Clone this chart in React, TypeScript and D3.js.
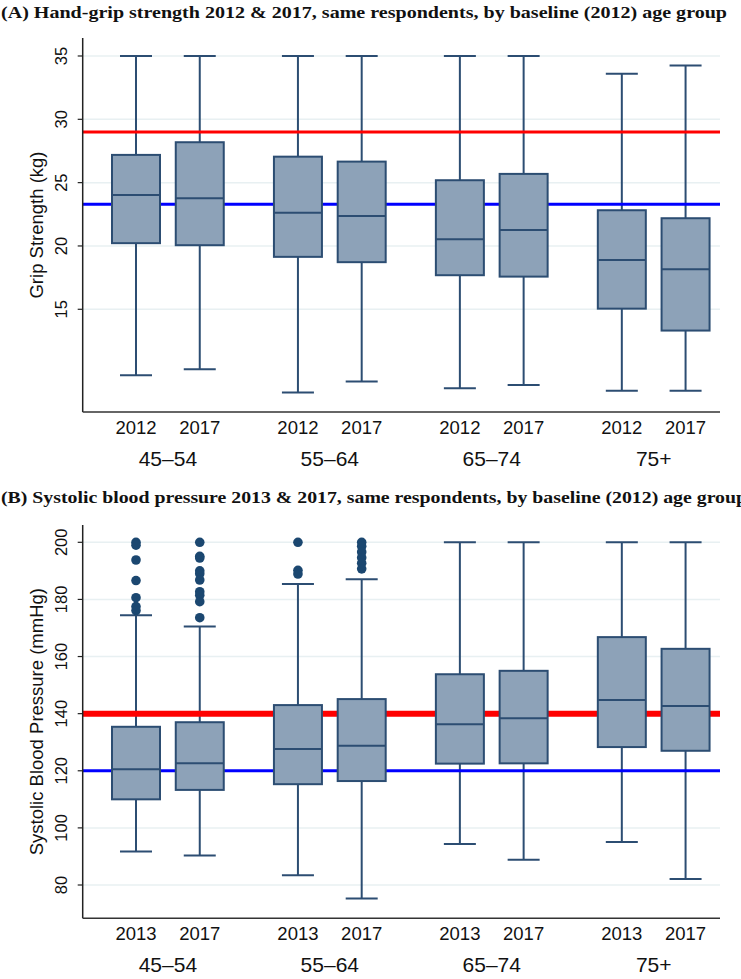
import React from "react";
import * as d3 from "d3";

// ---------- Data ----------
const ageGroups = ["45–54", "55–64", "65–74", "75+"];
const yearsA = ["2012", "2017"];
const yearsB = ["2013", "2017"];

// Panel A: grip strength (kg), order: group0-year0, group0-year1, ...
const gripLow = [9.8, 10.27, 8.43, 9.29, 8.77, 9.03, 8.56, 8.56];
const gripQ1 = [20.22, 20.06, 19.14, 18.72, 17.69, 17.58, 15.05, 13.32];
const gripMed = [24.03, 23.77, 22.63, 22.37, 20.53, 21.27, 18.9, 18.16];
const gripQ3 = [27.19, 28.19, 27.05, 26.66, 25.19, 25.69, 22.82, 22.19];
const gripHigh = [35, 35, 35, 35, 35, 35, 33.6, 34.24];
const gripRef = [29.0, 23.3];
const gripTicks = [15, 20, 25, 30, 35];

// Panel B: systolic blood pressure (mmHg)
const bpLow = [91.7, 90.3, 83.4, 75.3, 94.4, 88.8, 95.1, 82.1];
const bpQ1 = [110, 113.3, 115.3, 116.4, 122.5, 122.6, 128.3, 127];
const bpMed = [120.5, 122.6, 127.6, 128.8, 136.3, 138.4, 144.8, 142.7];
const bpQ3 = [135.4, 137, 143, 145.1, 153.8, 155, 166.8, 162.7];
const bpHigh = [174.5, 170.5, 185.4, 187.1, 200, 200, 200, 200];
const bpOutliers = [
  [200, 199, 193.8, 186.6, 180.6, 177.5, 176.1],
  [200, 195.1, 194.5, 190, 189, 186.8, 182.7, 181.5, 179.2, 173.6],
  [200, 190.2, 188.9],
  [200, 198.6, 196.6, 194.6, 192.7, 190.7],
  [], [], [], [],
];
const bpRef = [140, 120];
const bpTicks = [80, 100, 120, 140, 160, 180, 200];

// ---------- Styles ----------
const BOX_FILL = "#8DA2B8";
const BOX_STROKE = "#2C4D72";
const DOT = "#1B4770";
const GRID = "#E8F0F2";
const SANS = "'Liberation Sans', Arial, Helvetica, sans-serif";
const SERIF = "'Liberation Serif', 'Times New Roman', serif";

const PLOT_L = 82.7;
const PLOT_R = 720;
const GROUP_STEP = 2.54;

const x = d3.scaleLinear().domain([-0.836, 9.16]).range([PLOT_L, PLOT_R]);
const slot = (i: number) => Math.floor(i / 2) * GROUP_STEP + (i % 2);

type PanelProps = {
  top: number;
  bottom: number;
  domain: [number, number];
  ticks: number[];
  low: number[];
  q1: number[];
  med: number[];
  q3: number[];
  high: number[];
  outliers?: number[][];
  years: string[];
  refs: number[];
  refWidths: number[];
  yTitle: string;
  title: string;
  titleY: number;
  titleLen: number;
};

function Panel(p: PanelProps) {
  const y = d3.scaleLinear().domain(p.domain).range([p.bottom, p.top]);
  const boxW = 48;
  const capW = 32;
  const refColors = ["#FF0000", "#0000FF"];
  const idx = d3.range(p.low.length);
  return (
    <g>
      <text
        x={1}
        y={p.titleY}
        fontFamily={SERIF}
        fontWeight="bold"
        fontSize={17}
        textLength={p.titleLen}
        lengthAdjust="spacingAndGlyphs"
        fill="#111"
      >
        {p.title}
      </text>
      {/* grid */}
      {p.ticks.map((t) => (
        <line key={"g" + t} x1={PLOT_L} x2={PLOT_R} y1={y(t)} y2={y(t)} stroke={GRID} strokeWidth={1.5} />
      ))}
      {/* whiskers */}
      {idx.map((i) => {
        const cx = x(slot(i));
        return (
          <g key={"w" + i} stroke={BOX_STROKE} strokeWidth={2} fill="none">
            <line x1={cx} x2={cx} y1={y(p.high[i])} y2={y(p.low[i])} />
            <line x1={cx - capW / 2} x2={cx + capW / 2} y1={y(p.high[i])} y2={y(p.high[i])} />
            <line x1={cx - capW / 2} x2={cx + capW / 2} y1={y(p.low[i])} y2={y(p.low[i])} />
          </g>
        );
      })}
      {/* reference lines */}
      {p.refs.map((r, k) => (
        <line key={"r" + k} x1={PLOT_L} x2={PLOT_R} y1={y(r)} y2={y(r)} stroke={refColors[k]} strokeWidth={p.refWidths[k]} />
      ))}
      {/* boxes */}
      {idx.map((i) => {
        const cx = x(slot(i));
        return (
          <g key={"b" + i}>
            <rect
              x={cx - boxW / 2}
              y={y(p.q3[i])}
              width={boxW}
              height={y(p.q1[i]) - y(p.q3[i])}
              fill={BOX_FILL}
              stroke={BOX_STROKE}
              strokeWidth={2}
            />
            <line x1={cx - boxW / 2} x2={cx + boxW / 2} y1={y(p.med[i])} y2={y(p.med[i])} stroke={BOX_STROKE} strokeWidth={2} />
          </g>
        );
      })}
      {/* outliers */}
      {p.outliers &&
        p.outliers.map((arr, i) =>
          arr.map((v, k) => <circle key={"o" + i + "-" + k} cx={x(slot(i))} cy={y(v)} r={4.8} fill={DOT} />)
        )}
      {/* y axis */}
      <line x1={PLOT_L} x2={PLOT_L} y1={p.top} y2={p.bottom} stroke="#222" strokeWidth={1.5} />
      {p.ticks.map((t) => (
        <g key={"t" + t}>
          <line x1={PLOT_L - 5} x2={PLOT_L} y1={y(t)} y2={y(t)} stroke="#222" strokeWidth={1.2} />
          <text
            transform={`translate(${67},${y(t)}) rotate(-90)`}
            textAnchor="middle"
            fontFamily={SANS}
            fontSize={16.5}
            fill="#111"
          >
            {t}
          </text>
        </g>
      ))}
      <text
        transform={`translate(${42.7},${(p.top + p.bottom) / 2}) rotate(-90)`}
        textAnchor="middle"
        fontFamily={SANS}
        fontSize={18.5}
        fill="#111"
      >
        {p.yTitle}
      </text>
      {/* x axis */}
      <line x1={PLOT_L} x2={PLOT_R} y1={p.bottom} y2={p.bottom} stroke="#333" strokeWidth={1.5} />
      {idx.map((i) => (
        <text
          key={"yl" + i}
          x={x(slot(i))}
          y={p.bottom + 21.5}
          textAnchor="middle"
          fontFamily={SANS}
          fontSize={18.5}
          fill="#111"
        >
          {p.years[i % 2]}
        </text>
      ))}
      {ageGroups.map((g, gi) => (
        <text
          key={"ag" + gi}
          x={(x(slot(gi * 2)) + x(slot(gi * 2 + 1))) / 2}
          y={p.bottom + 53.5}
          textAnchor="middle"
          fontFamily={SANS}
          fontSize={21}
          fill="#111"
        >
          {g}
        </text>
      ))}
    </g>
  );
}

export default function App() {
  return (
    <svg
      width={741}
      height={979}
      style={{ position: "absolute", left: 0, top: 0, background: "#fff" }}
    >
      <rect x={0} y={0} width={741} height={979} fill="#fff" />
      <Panel
        top={38}
        bottom={412}
        domain={[6.89, 36.42]}
        ticks={gripTicks}
        low={gripLow}
        q1={gripQ1}
        med={gripMed}
        q3={gripQ3}
        high={gripHigh}
        years={yearsA}
        refs={gripRef}
        refWidths={[3, 3]}
        yTitle="Grip Strength (kg)"
        title="(A) Hand-grip strength 2012 & 2017, same respondents, by baseline (2012) age group"
        titleY={18}
        titleLen={726}
      />
      <Panel
        top={525}
        bottom={918.3}
        domain={[68.34, 206.06]}
        ticks={bpTicks}
        low={bpLow}
        q1={bpQ1}
        med={bpMed}
        q3={bpQ3}
        high={bpHigh}
        outliers={bpOutliers}
        years={yearsB}
        refs={bpRef}
        refWidths={[6, 3]}
        yTitle="Systolic Blood Pressure (mmHg)"
        title="(B) Systolic blood pressure 2013 & 2017, same respondents, by baseline (2012) age group"
        titleY={503}
        titleLen={746}
      />
    </svg>
  );
}
